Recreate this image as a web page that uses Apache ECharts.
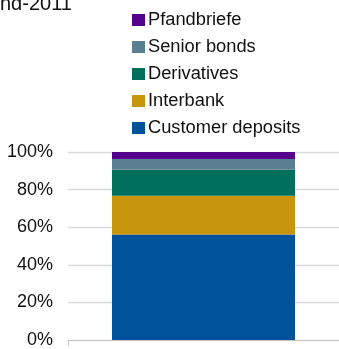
<!DOCTYPE html>
<html><head><meta charset="utf-8">
<script src="https://cdn.jsdelivr.net/npm/echarts@6/dist/echarts.min.js"></script>
<style>html,body{margin:0;padding:0;background:#fff}#c{width:339px;height:349px}</style>
</head><body><div id="c"></div>
<script>
const categories = ['end-2011'];
const seriesNames = ['Customer deposits', 'Interbank', 'Derivatives', 'Senior bonds', 'Pfandbriefe'];
const seriesColors = ['#00529B', '#C8960C', '#00705C', '#5B7F92', '#55008C'];
const customerDeposits = [56.1];
const interbank = [20.6];
const derivatives = [13.8];
const seniorBonds = [5.8];
const pfandbriefe = [3.7];
const yTicks = [0, 20, 40, 60, 80, 100];
const values = [customerDeposits, interbank, derivatives, seniorBonds, pfandbriefe];

const chart = echarts.init(document.getElementById('c'), null, {renderer: 'canvas'});
chart.setOption({
  animation: false,
  title: {text: 'nd-2011', left: -5, top: -11, textStyle: {fontSize: 20, fontWeight: 'normal', color: '#111', fontFamily: 'Liberation Sans'}},
  legend: {
    orient: 'vertical', left: 127, top: 6, itemWidth: 13, itemHeight: 12, itemGap: 9,
    icon: 'rect',
    data: seriesNames.slice().reverse(),
    textStyle: {fontSize: 18.3, color: '#111', fontFamily: 'Liberation Sans', padding: [0, 0, 0, -2]}
  },
  grid: {left: 68, right: 0, top: 152, bottom: 8},
  xAxis: {
    type: 'category', data: categories,
    axisLine: {lineStyle: {color: '#c8c8c8', width: 1}},
    axisTick: {show: true, length: 6, lineStyle: {color: '#c8c8c8'}},
    axisLabel: {show: false}
  },
  yAxis: {
    type: 'value', min: 0, max: 100, interval: 20,
    axisLabel: {formatter: v => yTicks.includes(v) ? v + '%' : '', fontSize: 18, color: '#111', margin: 15, fontFamily: 'Liberation Sans'},
    splitLine: {lineStyle: {color: '#d9d9d9', width: 1.3}},
    axisLine: {show: false}, axisTick: {show: false}
  },
  series: seriesNames.map((n, i) => ({
    name: n, type: 'bar', stack: 'total', data: values[i], barWidth: 183,
    itemStyle: {color: seriesColors[i]}
  }))
});
</script></body></html>
